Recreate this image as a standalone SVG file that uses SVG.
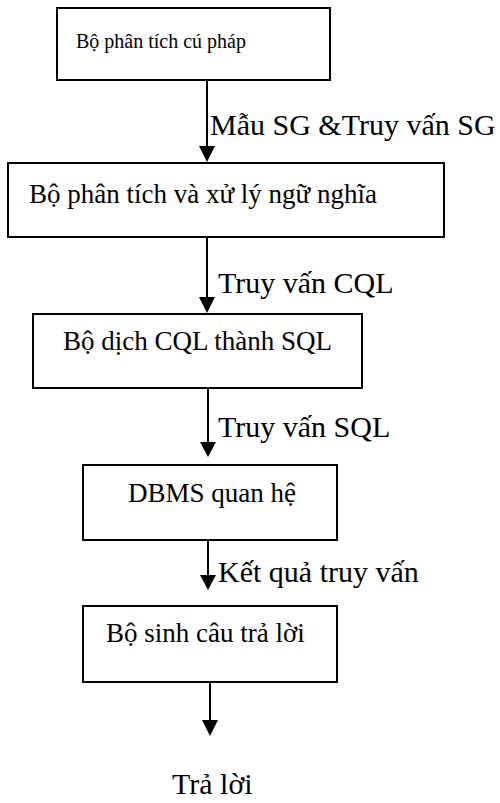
<svg xmlns="http://www.w3.org/2000/svg" width="500" height="803" viewBox="0 0 500 803">
<style>
.box{fill:#fff;stroke:#000;stroke-width:2}
.t{font-family:"Liberation Serif","Times New Roman",serif;fill:#000}
.s{font-size:20px}
.m{font-size:27px}
.l{font-size:30px}
.ln{stroke:#000;stroke-width:2;fill:none}
.ah{fill:#000}
</style>
<rect width="500" height="803" fill="#fff"/>
<g id="n1"><rect class="box" x="57" y="8" width="273" height="72"/><text class="t s" x="76" y="48">Bộ phân tích cú pháp</text></g>
<g id="n2"><rect class="box" x="8" y="163" width="436" height="74"/><text class="t m" x="29" y="203">Bộ phân tích và xử lý ngữ nghĩa</text></g>
<g id="n3"><rect class="box" x="33" y="314" width="329" height="74"/><text class="t m" x="63" y="350">Bộ dịch CQL thành SQL</text></g>
<g id="n4"><rect class="box" x="83" y="465" width="254" height="75"/><text class="t m" x="128" y="502">DBMS quan hệ</text></g>
<g id="n5"><rect class="box" x="83" y="606" width="254" height="76"/><text class="t m" x="106" y="642">Bộ sinh câu trả lời</text></g>
<g id="n6"><text class="t l" x="172" y="794">Trả lời</text></g>
<g id="connectors">
<line class="ln" x1="207" y1="80" x2="207" y2="148"/><polygon class="ah" points="199,146 215,146 207,162"/>
<text class="t l" x="210" y="135">Mẫu SG &amp;Truy vấn SG</text>
<line class="ln" x1="207" y1="237" x2="207" y2="298"/><polygon class="ah" points="199,297 215,297 207,313"/>
<text class="t l" x="218" y="293">Truy vấn CQL</text>
<line class="ln" x1="208" y1="388" x2="208" y2="444"/><polygon class="ah" points="200,442 216,442 208,457"/>
<text class="t l" x="218" y="437">Truy vấn SQL</text>
<line class="ln" x1="208" y1="540" x2="208" y2="577"/><polygon class="ah" points="200,575 216,575 208,590"/>
<text class="t l" x="218" y="582">Kết quả truy vấn</text>
<line class="ln" x1="210" y1="682" x2="210" y2="722"/><polygon class="ah" points="202,720 218,720 210,736"/>
</g>
</svg>
